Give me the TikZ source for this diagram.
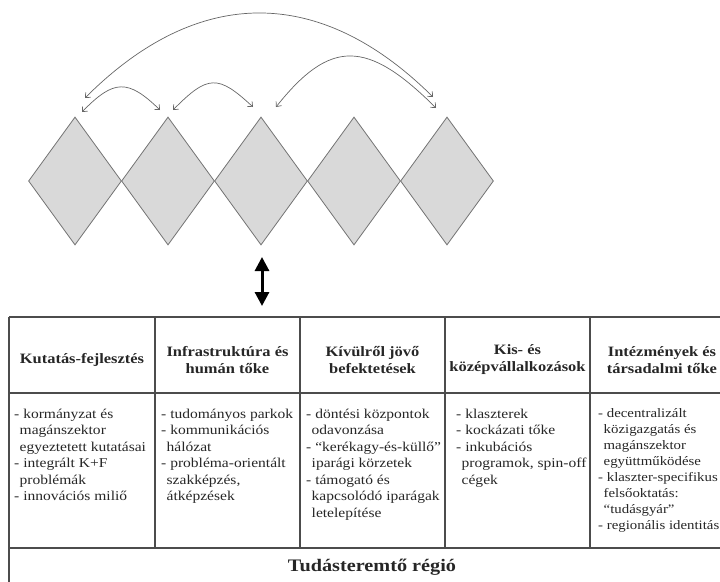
\documentclass[tikz,border=0pt]{standalone}
\usepackage{fontspec}
\setmainfont[FakeStretch=1.15]{Liberation Serif}
\usetikzlibrary{shapes.geometric,arrows.meta}
\newcommand{\ind}{\hspace*{5.5pt}}
\begin{document}
\begin{tikzpicture}[x=1pt,y=-1pt,
  dia/.style={diamond, draw=black!55, fill=black!15, line width=0.8pt, minimum width=93pt, minimum height=128pt, inner sep=0pt},
  arcline/.style={draw=black!60, line width=0.7pt, {Straight Barb[length=4pt,width=7pt]}-{Straight Barb[length=4pt,width=7pt]}},
  grid/.style={draw=black!70, line width=1.1pt},
  head/.style={font=\fontsize{14.3}{17}\selectfont\bfseries, align=center, text=black!85, inner sep=0pt},
  body/.style={font=\fontsize{13.5}{16.5}\selectfont, align=left, anchor=north west, inner sep=0pt, text=black!85},
  bigarrow/.style={line width=3pt, {Triangle[width=14pt,length=14pt]}-{Triangle[width=14pt,length=14pt]}}
]
\useasboundingbox (0,0) rectangle (720,581);
\clip (0,0) rectangle (720,581);

% diamonds
\node[dia] (d1) at (75,181) {};
\node[dia] (d2) at (168,181) {};
\node[dia] (d3) at (261,181) {};
\node[dia] (d4) at (354,181) {};
\node[dia] (d5) at (447,181) {};

% arc end points
\coordinate (a1) at (85,98);
\coordinate (a2) at (433,97);
\coordinate (b1) at (82,112);
\coordinate (b2) at (160,110);
\coordinate (c1) at (173,110);
\coordinate (c2) at (253,107);
\coordinate (e1) at (276,107);
\coordinate (e2) at (436,108);

\draw[arcline] (a1) .. controls (198,-15) and (320,-15) .. (a2);
\draw[arcline] (b1) .. controls (114,79) and (128,79) .. (b2);
\draw[arcline] (c1) .. controls (208,74.5) and (218,74.5) .. (c2);
\draw[arcline] (e1) .. controls (330,39) and (367,39) .. (e2);

% vertical double arrow
\coordinate (ua) at (262,257);
\coordinate (da) at (262,306);
\draw[bigarrow] (ua) -- (da);

% table
\draw[grid] (9,317) -- (745,317);
\draw[grid] (9,393) -- (745,393);
\draw[grid] (9,548) -- (745,548);
\draw[grid] (9,317) -- (9,590);
\foreach \xx in {155,300,445,590} \draw[grid] (\xx,317) -- (\xx,548);

% headers
\node[head] (h1) at (82,360) {Kutatás-fejlesztés};
\node[head] (h2) at (227.5,360) {Infrastruktúra és\\humán tőke};
\node[head] (h3) at (372.5,360) {Kívülről jövő\\befektetések};
\node[head] (h4) at (517.5,360) {Kis- és\\középvállalkozások};
\node[head] (h5) at (662,360) {Intézmények és\\társadalmi tőke};

% bodies
\node[body] (t1) at (14,406.5) {\strut- kormányzat és\\\ind magánszektor\\\ind egyeztetett kutatásai\\- integrált K+F\\\ind problémák\\- innovációs miliő};
\node[body] (t2) at (161,406.5) {\strut- tudományos parkok\\- kommunikációs\\\ind hálózat\\- probléma-orientált\\\ind szakképzés,\\\ind átképzések};
\node[body] (t3) at (306,406.5) {\strut- döntési központok\\\ind odavonzása\\- “kerékagy-és-küllő”\\\ind iparági körzetek\\- támogató és\\\ind kapcsolódó iparágak\\\ind letelepítése};
\node[body] (t4) at (456,406.5) {\strut- klaszterek\\- kockázati tőke\\- inkubációs\\\ind programok, spin-off\\\ind cégek};
\node[body, font=\fontsize{12.9}{16}\selectfont] (t5) at (598,406) {\strut- decentralizált\\\ind közigazgatás és\\\ind magánszektor\\\ind együttműködése\\- klaszter-specifikus\\\ind felsőoktatás:\\\ind “tudásgyár”\\- regionális identitás};

% bottom
\node[font=\fontsize{17.6}{20}\selectfont\bfseries, text=black!85] (tr) at (372,567) {Tudásteremtő régió};
\end{tikzpicture}
\end{document}
